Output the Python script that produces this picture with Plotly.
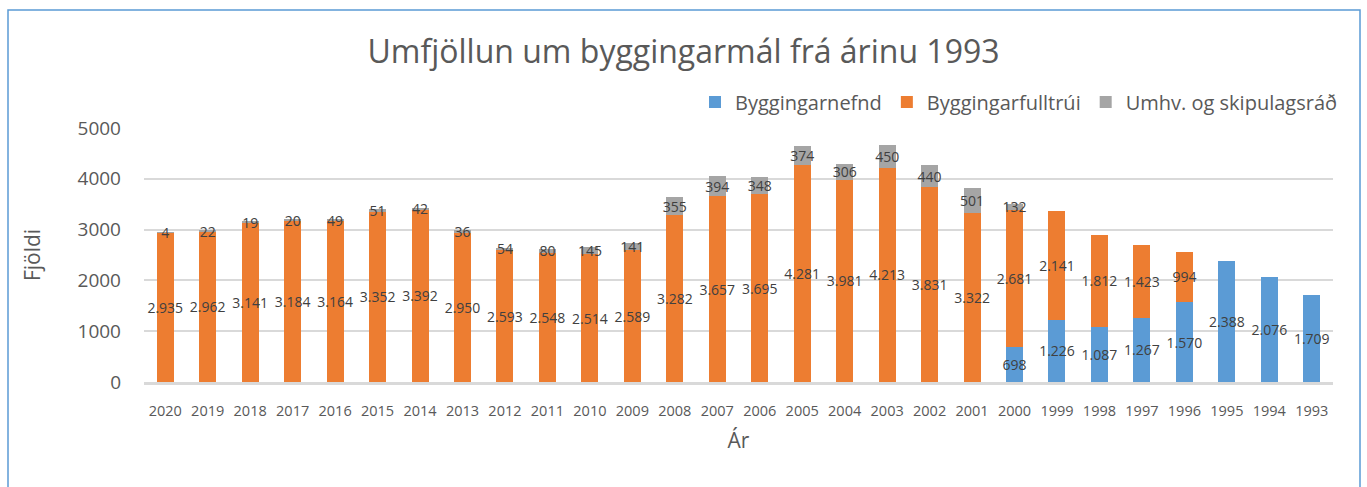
import plotly.graph_objects as go

years = [str(y) for y in range(2020, 1992, -1)]
byggingarnefnd = [None]*20 + [698, 1226, 1087, 1267, 1570, 2388, 2076, 1709]
byggingarfulltrui = [2935, 2962, 3141, 3184, 3164, 3352, 3392, 2950, 2593, 2548, 2514, 2589,
                     3282, 3657, 3695, 4281, 3981, 4213, 3831, 3322, 2681, 2141, 1812, 1423, 994,
                     None, None, None]
umhv = [4, 22, 19, 20, 49, 51, 42, 36, 54, 80, 145, 141, 355, 394, 348, 374, 306, 450, 440, 501, 132,
        None, None, None, None, None, None, None]

names = ["Byggingarnefnd", "Byggingarfulltrúi", "Umhv. og skipulagsráð"]
colors = ["#5B9BD5", "#ED7D31", "#A5A5A5"]

FONT = "Open Sans, sans-serif"

def fmt(v):
    return "" if v is None else f"{v:,}".replace(",", ".")

fig = go.Figure()
for name, vals, col in zip(names, [byggingarnefnd, byggingarfulltrui, umhv], colors):
    fig.add_trace(go.Bar(
        x=years, y=vals, name=name, marker_color=col, marker_line_width=0,
        text=[fmt(v) for v in vals], textposition="inside", insidetextanchor="middle",
        textangle=0, constraintext="none", cliponaxis=False,
        textfont=dict(family=FONT, size=14, color="#404040"),
    ))

L, R, T, B = 144, 1333, 128, 382
W, H = 1367, 487

def px(x):
    return (x - L) / (R - L)

def py(y):
    return (B - y) / (B - T)

fig.update_layout(
    barmode="stack",
    bargap=0.6,
    width=W, height=H,
    margin=dict(l=L, r=W - R, t=T, b=H - B, pad=0),
    paper_bgcolor="white", plot_bgcolor="white",
    separators=",.",
    title=dict(text="Umfjöllun um byggingarmál frá árinu 1993", x=0.5, xanchor="center",
               y=1 - 52 / H, yanchor="middle",
               font=dict(family=FONT, size=32, color="#595959")),
    legend=dict(orientation="h", x=px(1342), xanchor="right", y=py(102), yanchor="middle",
                font=dict(family=FONT, size=20, color="#595959"), traceorder="normal",
                itemwidth=30, bgcolor="rgba(0,0,0,0)"),
    font=dict(family=FONT, color="#595959"),
    xaxis=dict(type="category", showgrid=False, showline=True, linecolor="#D9D9D9", linewidth=3,
               ticks="", tickfont=dict(family=FONT, size=14.5, color="#595959"),
               ticklabelstandoff=14, tickangle=0,
               title=dict(text="Ár", font=dict(family=FONT, size=21, color="#595959"), standoff=14)),
    yaxis=dict(range=[0, 5000], dtick=1000, showgrid=True, gridcolor="#D9D9D9", gridwidth=2,
               zeroline=False, showline=False, ticks="",
               tickfont=dict(family=FONT, size=19, color="#595959"), ticklabelstandoff=22,
               title=dict(text="Fjöldi", font=dict(family=FONT, size=21, color="#595959"), standoff=31)),
    shapes=[dict(type="rect", xref="paper", yref="paper",
                 x0=px(8), x1=px(1360), y0=py(520), y1=py(10),
                 line=dict(color="#5B9BD5", width=1.5), fillcolor="rgba(0,0,0,0)", layer="below")],
)

fig.write_html("out.html", config={"displayModeBar": False},
               post_script="document.body.style.margin='0px';document.body.style.overflow='hidden';")
